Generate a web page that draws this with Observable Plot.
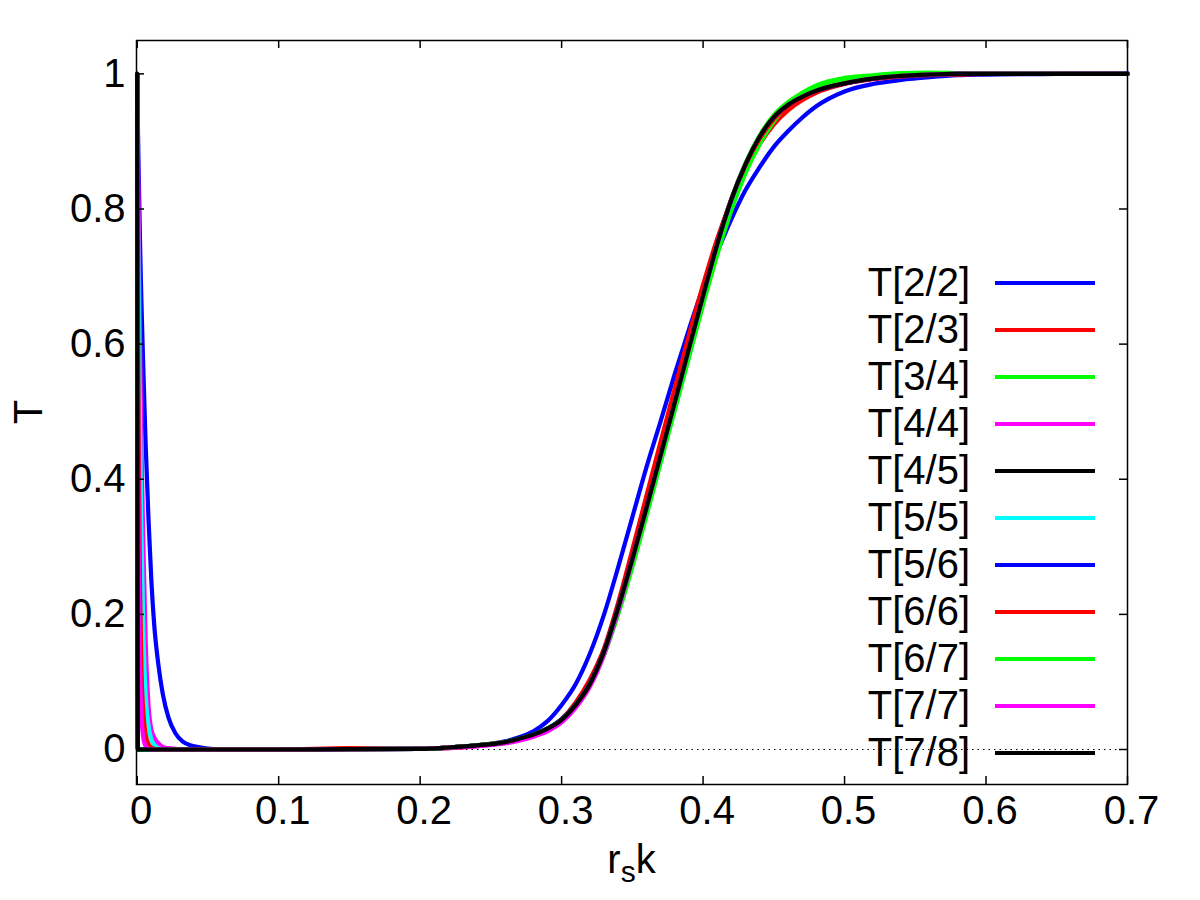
<!DOCTYPE html>
<html>
<head>
<meta charset="utf-8">
<script src="https://cdn.jsdelivr.net/npm/d3@7"></script>
<script src="https://cdn.jsdelivr.net/npm/@observablehq/plot@0.6"></script>
<style>
  html, body { margin: 0; padding: 0; background: #fff; }
</style>
</head>
<body>
<div id="chart"></div>
<script>
// x values (r_s k): dense near 0 for the spike, then the transition region
const rsk = [
  0, 0.0005, 0.001, 0.002, 0.003, 0.0045, 0.006, 0.008, 0.010, 0.012, 0.015, 0.018, 0.022, 0.027, 0.032, 0.038, 0.045, 0.052,
  0.06, 0.1, 0.15, 0.2, 0.22, 0.24, 0.26, 0.27, 0.28, 0.29, 0.30, 0.31, 0.32, 0.33, 0.34, 0.35, 0.36, 0.37, 0.38, 0.39,
  0.40, 0.41, 0.42, 0.43, 0.44, 0.45, 0.46, 0.47, 0.48, 0.50, 0.52, 0.54, 0.56, 0.58, 0.60, 0.65, 0.70
];

const T_2_2 = [
  1, 0.92, 0.86, 0.75, 0.66, 0.55, 0.45, 0.34, 0.25, 0.185, 0.125, 0.083, 0.048, 0.024, 0.012, 0.006, 0.003, 0.001,
  0, 0, 0.0005, 0.001, 0.003, 0.006, 0.012, 0.018, 0.027, 0.042, 0.066, 0.097, 0.142, 0.200, 0.270, 0.344, 0.418, 0.486, 0.556, 0.622,
  0.684, 0.736, 0.785, 0.828, 0.862, 0.892, 0.915, 0.935, 0.952, 0.974, 0.985, 0.991, 0.995, 0.998, 0.999, 1.0, 1.001
];
const T_2_3 = [
  1, 0, 0, 0, 0, 0, 0, 0, 0, 0, 0, 0, 0, 0, 0, 0, 0, 0,
  0, 0, 0.002, 0.001, 0.002, 0.005, 0.010, 0.014, 0.020, 0.030, 0.045, 0.070, 0.104, 0.150, 0.218, 0.296, 0.376, 0.456, 0.535, 0.613,
  0.688, 0.756, 0.812, 0.858, 0.896, 0.925, 0.946, 0.961, 0.972, 0.985, 0.992, 0.996, 0.998, 0.999, 1.0, 1.0, 1.0
];
const T_3_4 = [
  1, 0, 0, 0, 0, 0, 0, 0, 0, 0, 0, 0, 0, 0, 0, 0, 0, 0,
  0, 0, 0.0005, 0.001, 0.003, 0.006, 0.011, 0.015, 0.021, 0.030, 0.044, 0.066, 0.096, 0.140, 0.200, 0.270, 0.346, 0.424, 0.502, 0.580,
  0.658, 0.732, 0.798, 0.853, 0.896, 0.930, 0.955, 0.972, 0.983, 0.994, 0.998, 1.001, 1.002, 1.001, 1.0, 1.0, 1.0
];
const T_4_4 = [
  1, 0.88, 0.80, 0.60, 0.45, 0.29, 0.16, 0.065, 0.03, 0.018, 0.009, 0.004, 0.002, 0.001, 0, 0, 0, 0,
  0, 0, 0.0005, 0.001, 0.002, 0.005, 0.009, 0.013, 0.019, 0.027, 0.040, 0.062, 0.093, 0.140, 0.205, 0.280, 0.358, 0.436, 0.515, 0.594,
  0.672, 0.748, 0.814, 0.866, 0.906, 0.935, 0.953, 0.966, 0.975, 0.986, 0.993, 0.997, 0.999, 1.0, 1.0, 1.0, 1.0
];
const T_4_5 = [
  1, 0, 0, 0, 0, 0, 0, 0, 0, 0, 0, 0, 0, 0, 0, 0, 0, 0,
  0, 0, 0.0005, 0.001, 0.003, 0.006, 0.011, 0.016, 0.022, 0.031, 0.044, 0.066, 0.097, 0.145, 0.210, 0.282, 0.358, 0.436, 0.514, 0.594,
  0.672, 0.748, 0.814, 0.866, 0.907, 0.936, 0.954, 0.966, 0.975, 0.986, 0.993, 0.997, 0.999, 1.0, 1.0, 1.0, 1.0
];
const T_5_5 = [
  1, 0.82, 0.68, 0.48, 0.32, 0.16, 0.08, 0.035, 0.015, 0.007, 0.002, 0.0005, 0, 0, 0, 0, 0, 0,
  0, 0, 0.0005, 0.001, 0.003, 0.006, 0.011, 0.015, 0.021, 0.030, 0.043, 0.065, 0.096, 0.143, 0.208, 0.281, 0.357, 0.435, 0.513, 0.593,
  0.671, 0.747, 0.813, 0.866, 0.907, 0.936, 0.954, 0.967, 0.976, 0.987, 0.994, 0.997, 0.999, 1.0, 1.0, 1.0, 1.0
];
const T_5_6 = [
  1, 0, 0, 0, 0, 0, 0, 0, 0, 0, 0, 0, 0, 0, 0, 0, 0, 0,
  0, 0, 0.0005, 0.001, 0.003, 0.006, 0.011, 0.016, 0.022, 0.031, 0.045, 0.067, 0.099, 0.147, 0.213, 0.286, 0.362, 0.440, 0.518, 0.597,
  0.675, 0.750, 0.815, 0.867, 0.907, 0.936, 0.954, 0.966, 0.975, 0.986, 0.993, 0.997, 0.999, 1.0, 1.0, 1.0, 1.0
];
const T_6_6 = [
  1, 0.68, 0.48, 0.24, 0.12, 0.05, 0.022, 0.008, 0.003, 0.001, 0, 0, 0, 0, 0, 0, 0, 0,
  0, 0, 0.0005, 0.001, 0.003, 0.006, 0.011, 0.015, 0.021, 0.030, 0.044, 0.066, 0.098, 0.146, 0.212, 0.286, 0.363, 0.442, 0.520, 0.600,
  0.678, 0.752, 0.815, 0.865, 0.904, 0.933, 0.952, 0.965, 0.974, 0.986, 0.993, 0.997, 0.999, 1.0, 1.0, 1.0, 1.0
];
const T_6_7 = [
  1, 0, 0, 0, 0, 0, 0, 0, 0, 0, 0, 0, 0, 0, 0, 0, 0, 0,
  0, 0, 0.0005, 0.001, 0.003, 0.006, 0.011, 0.016, 0.022, 0.031, 0.044, 0.066, 0.097, 0.144, 0.209, 0.281, 0.357, 0.435, 0.513, 0.593,
  0.671, 0.748, 0.815, 0.868, 0.909, 0.939, 0.958, 0.971, 0.980, 0.991, 0.996, 0.999, 1.0, 1.0, 1.0, 1.0, 1.0
];
const T_7_7 = [
  1, 0.55, 0.30, 0.12, 0.05, 0.015, 0.005, 0.001, 0, 0, 0, 0, 0, 0, 0, 0, 0, 0,
  0, 0, 0.0005, 0.001, 0.003, 0.005, 0.010, 0.014, 0.020, 0.029, 0.042, 0.064, 0.095, 0.143, 0.208, 0.281, 0.358, 0.436, 0.514, 0.594,
  0.672, 0.748, 0.814, 0.866, 0.907, 0.936, 0.954, 0.966, 0.975, 0.986, 0.993, 0.997, 0.999, 1.0, 1.0, 1.0, 1.0
];
const T_7_8 = [
  1, 0, 0, 0, 0, 0, 0, 0, 0, 0, 0, 0, 0, 0, 0, 0, 0, 0,
  0, 0, 0.0005, 0.001, 0.003, 0.006, 0.011, 0.016, 0.022, 0.031, 0.044, 0.066, 0.097, 0.145, 0.210, 0.282, 0.358, 0.436, 0.514, 0.594,
  0.672, 0.748, 0.814, 0.866, 0.907, 0.936, 0.954, 0.966, 0.975, 0.986, 0.993, 0.997, 0.999, 1.0, 1.0, 1.0, 1.0
];

const seriesNames  = ["T[2/2]", "T[2/3]", "T[3/4]", "T[4/4]", "T[4/5]", "T[5/5]", "T[5/6]", "T[6/6]", "T[6/7]", "T[7/7]", "T[7/8]"];
const seriesValues = [T_2_2, T_2_3, T_3_4, T_4_4, T_4_5, T_5_5, T_5_6, T_6_6, T_6_7, T_7_7, T_7_8];
const seriesColors = ["#0000ff", "#ff0000", "#00ff00", "#ff00ff", "#000000", "#00ffff", "#0000ff", "#ff0000", "#00ff00", "#ff00ff", "#000000"];

const xTicks = [0, 0.1, 0.2, 0.3, 0.4, 0.5, 0.6, 0.7];
const yTicks = [0, 0.2, 0.4, 0.6, 0.8, 1];

const W = 1200, H = 900;
const mL = 136, mR = 73, mT = 40, mB = 116;
const frameW = W - mL - mR, frameH = H - mT - mB;
const tickLen = 8;

const lineMarks = seriesValues.map((vals, i) =>
  Plot.line(rsk.map((x, j) => ({x, T: vals[j]})), {
    x: "x", y: "T", stroke: seriesColors[i], strokeWidth: 4.2, curve: "monotone-x"
  })
);

const svg = Plot.plot({
  width: W,
  height: H,
  marginLeft: mL,
  marginRight: mR,
  marginTop: mT,
  marginBottom: mB,
  style: {fontFamily: "'Liberation Sans', Arial, sans-serif", fontSize: "40px", background: "#fff", color: "#000"},
  x: {domain: [-0.0005, 0.7], label: null},
  y: {domain: [-0.0518, 1.0494], label: null},
  marks: [
    Plot.axisX(xTicks, {anchor: "bottom", tickSize: 0, tickPadding: 11, dx: 4, tickFormat: d => String(d), fontSize: 40, label: null}),
    Plot.axisY(yTicks, {anchor: "left", tickSize: 0, tickPadding: 11, tickFormat: d => String(d), fontSize: 40, label: null}),
    Plot.ruleY([0], {stroke: "#000", strokeWidth: 1, strokeDasharray: "1.5,4"}),
    ...lineMarks,
    Plot.tickX(xTicks, {x: d => d, insetTop: frameH - tickLen, stroke: "#000", strokeWidth: 1.5}),
    Plot.tickX(xTicks, {x: d => d, insetBottom: frameH - tickLen, stroke: "#000", strokeWidth: 1.5}),
    Plot.tickY(yTicks, {y: d => d, insetRight: frameW - tickLen, stroke: "#000", strokeWidth: 1.5}),
    Plot.tickY(yTicks, {y: d => d, insetLeft: frameW - tickLen, stroke: "#000", strokeWidth: 1.5}),
    Plot.frame({stroke: "#000", strokeWidth: 1.5})
  ]
});

const s = d3.select(svg);
const font = "'Liberation Sans', Arial, sans-serif";

// x axis label r_s k
const xl = s.append("text")
  .attr("x", mL + frameW / 2).attr("y", 873)
  .attr("text-anchor", "middle").attr("font-family", font).attr("font-size", 40).attr("fill", "#000");
xl.append("tspan").text("r");
xl.append("tspan").attr("font-size", 30).attr("dy", 9).text("s");
xl.append("tspan").attr("dy", -9).text("k");

// y axis label T (rotated)
s.append("text")
  .attr("transform", "translate(42,412) rotate(-90)")
  .attr("text-anchor", "middle").attr("font-family", font).attr("font-size", 40).attr("fill", "#000")
  .text("T");

// legend
const lg = s.append("g");
seriesNames.forEach((name, i) => {
  const yy = 283 + 47 * i;
  lg.append("text")
    .attr("x", 970).attr("y", yy + 13)
    .attr("text-anchor", "end").attr("font-family", font).attr("font-size", 40).attr("fill", "#000")
    .text(name);
  lg.append("line")
    .attr("x1", 995).attr("x2", 1095).attr("y1", yy).attr("y2", yy)
    .attr("stroke", seriesColors[i]).attr("stroke-width", 4);
});

document.getElementById("chart").appendChild(svg);
</script>
</body>
</html>
